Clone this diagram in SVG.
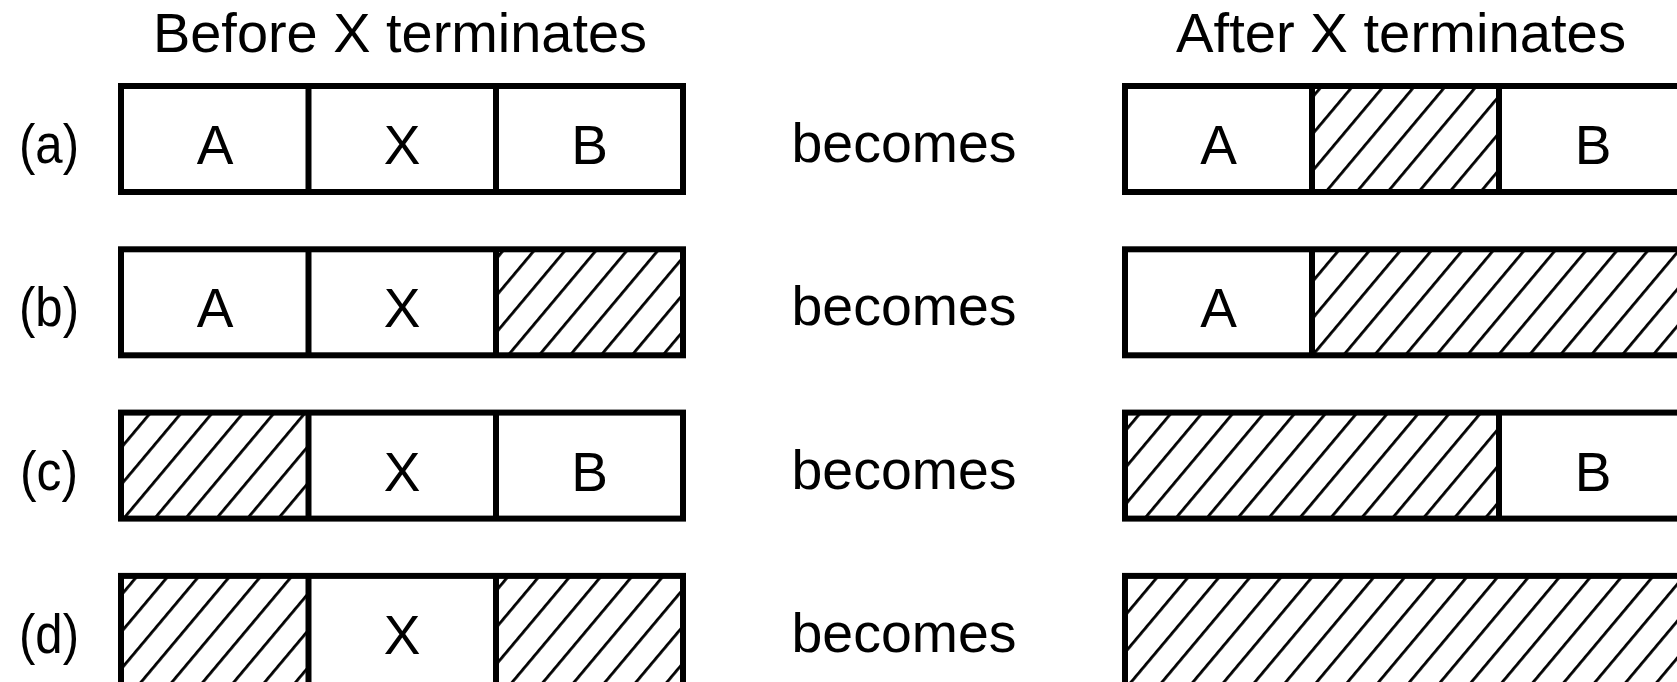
<svg xmlns="http://www.w3.org/2000/svg" width="1677" height="682" viewBox="0 0 1677 682">
<style>
text { font-family: "Liberation Sans", Arial, Helvetica, sans-serif; font-size: 55px; fill: #000; }
.c { text-anchor: middle; }
.box { fill: none; stroke: #000; stroke-width: 6; }
.div { stroke: #000; stroke-width: 6; }
.h { fill: url(#hatch); stroke: none; }
</style>
<defs>
<pattern id="hatch" patternUnits="userSpaceOnUse" width="23.7" height="20" patternTransform="rotate(40)">
<rect x="0" y="0" width="23.7" height="20" fill="#fff"/>
<rect x="0" y="0" width="2.8" height="20" fill="#000"/>
</pattern>
</defs>
<rect width="1677" height="682" fill="#fff"/>
<g id="titles">
<text class="c" x="400" y="52" textLength="494" lengthAdjust="spacingAndGlyphs">Before X terminates</text>
<text class="c" x="1401" y="52" textLength="450" lengthAdjust="spacingAndGlyphs">After X terminates</text>
</g>
<g id="row-a">
<text class="c" x="49" y="163" textLength="60" lengthAdjust="spacingAndGlyphs">(a)</text>
<rect class="box" x="121" y="86" width="562" height="106" fill="#fff"/>
<line class="div" x1="308.5" y1="86" x2="308.5" y2="192"/>
<line class="div" x1="496" y1="86" x2="496" y2="192"/>
<text class="c" x="215" y="164">A</text>
<text class="c" x="402" y="164">X</text>
<text class="c" x="589.5" y="164">B</text>
<text class="c" x="904" y="162" textLength="225" lengthAdjust="spacingAndGlyphs">becomes</text>
<rect class="h" x="1312" y="86" width="187" height="106"/>
<rect class="box" x="1125" y="86" width="562" height="106"/>
<line class="div" x1="1312" y1="86" x2="1312" y2="192"/>
<line class="div" x1="1499" y1="86" x2="1499" y2="192"/>
<text class="c" x="1218.5" y="164">A</text>
<text class="c" x="1593" y="164">B</text>
</g>
<g id="row-b">
<text class="c" x="49" y="326.3" textLength="60" lengthAdjust="spacingAndGlyphs">(b)</text>
<rect class="h" x="496" y="249.3" width="187" height="106"/>
<rect class="box" x="121" y="249.3" width="562" height="106"/>
<line class="div" x1="308.5" y1="249.3" x2="308.5" y2="355.3"/>
<line class="div" x1="496" y1="249.3" x2="496" y2="355.3"/>
<text class="c" x="215" y="327.3">A</text>
<text class="c" x="402" y="327.3">X</text>
<text class="c" x="904" y="325.3" textLength="225" lengthAdjust="spacingAndGlyphs">becomes</text>
<rect class="h" x="1312" y="249.3" width="375" height="106"/>
<rect class="box" x="1125" y="249.3" width="562" height="106"/>
<line class="div" x1="1312" y1="249.3" x2="1312" y2="355.3"/>
<text class="c" x="1218.5" y="327.3">A</text>
</g>
<g id="row-c">
<text class="c" x="49" y="489.6" textLength="58" lengthAdjust="spacingAndGlyphs">(c)</text>
<rect class="h" x="121" y="412.6" width="187.5" height="106"/>
<rect class="box" x="121" y="412.6" width="562" height="106"/>
<line class="div" x1="308.5" y1="412.6" x2="308.5" y2="518.6"/>
<line class="div" x1="496" y1="412.6" x2="496" y2="518.6"/>
<text class="c" x="402" y="490.6">X</text>
<text class="c" x="589.5" y="490.6">B</text>
<text class="c" x="904" y="488.6" textLength="225" lengthAdjust="spacingAndGlyphs">becomes</text>
<rect class="h" x="1125" y="412.6" width="374" height="106"/>
<rect class="box" x="1125" y="412.6" width="562" height="106"/>
<line class="div" x1="1499" y1="412.6" x2="1499" y2="518.6"/>
<text class="c" x="1593" y="490.6">B</text>
</g>
<g id="row-d">
<text class="c" x="49" y="652.9" textLength="60" lengthAdjust="spacingAndGlyphs">(d)</text>
<rect class="h" x="121" y="575.9" width="187.5" height="110"/>
<rect class="h" x="496" y="575.9" width="187" height="110"/>
<rect class="box" x="121" y="575.9" width="562" height="110"/>
<line class="div" x1="308.5" y1="575.9" x2="308.5" y2="690"/>
<line class="div" x1="496" y1="575.9" x2="496" y2="690"/>
<text class="c" x="402" y="653.9">X</text>
<text class="c" x="904" y="651.9" textLength="225" lengthAdjust="spacingAndGlyphs">becomes</text>
<rect class="h" x="1125" y="575.9" width="562" height="110"/>
<rect class="box" x="1125" y="575.9" width="562" height="110"/>
</g>
</svg>
